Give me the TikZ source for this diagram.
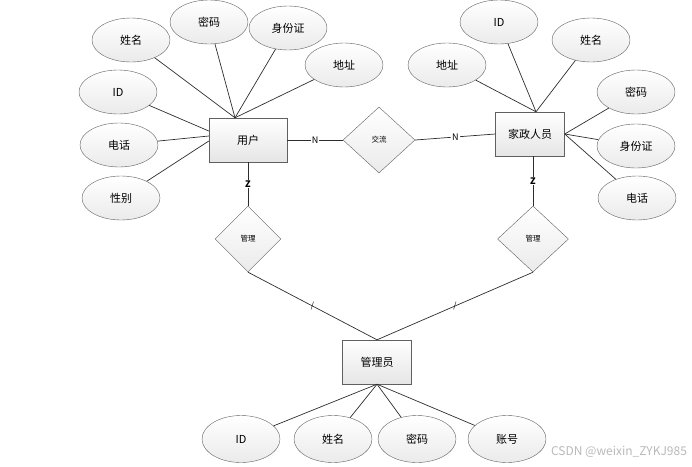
\documentclass[tikz,border=0pt]{standalone}
\usepackage{fontspec}
\setmainfont{Noto Sans CJK SC}
\usetikzlibrary{positioning,shapes.geometric}

\tikzset{
	entity/.style={draw=gray!75!black, top color=white, bottom color=gray!20, minimum width=69pt, minimum height=44pt, inner sep=0pt, font=\fontsize{11}{13}\selectfont},
	attr/.style={ellipse, draw=gray!75!black, top color=white, bottom color=gray!16, minimum width=78pt, minimum height=44pt, inner sep=0pt, font=\fontsize{11}{13}\selectfont},
	rel/.style={diamond, draw=gray!75!black, top color=white, bottom color=gray!16, minimum width=70pt, minimum height=66pt, inner sep=0pt, font=\fontsize{7.5}{9}\selectfont},
	link/.style={draw=gray!35!black, line width=0.7pt},
	card/.style={fill=white, inner sep=1pt, font=\fontsize{9}{10}\selectfont},
}

\begin{document}
\begin{tikzpicture}[x=1pt, y=-1pt]
	\useasboundingbox (0,0) rectangle (692,466);

	% entities and relations
	\node[entity, minimum width=78pt] (user) at (248,140) {用户};
	\node[entity] (staff) at (530,134) {家政人员};
	\node[entity] (admin) at (377,362) {管理员};
	\node[rel, minimum width=72pt] (talk) at (379,140) {交流};
	\node[rel, minimum width=66pt] (mngl) at (248,239) {管理};
	\node[rel, minimum width=71pt] (mngr) at (533,239) {管理};

	% attributes of user
	\node[attr] (uname) at (131,40) {姓名};
	\node[attr] (upwd) at (209,22) {密码};
	\node[attr] (ucard) at (288,28) {身份证};
	\node[attr] (uaddr) at (344,65) {地址};
	\node[attr] (uid) at (118,92) {ID};
	\node[attr] (utel) at (119,145) {电话};
	\node[attr] (usex) at (121,198) {性别};

	% attributes of staff
	\node[attr] (sid) at (499,22) {ID};
	\node[attr] (sname) at (591,40) {姓名};
	\node[attr] (saddr) at (447,65) {地址};
	\node[attr] (spwd) at (636,92) {密码};
	\node[attr] (scard) at (636,146) {身份证};
	\node[attr] (stel) at (637,198) {电话};

	% attributes of admin
	\node[attr, minimum height=47pt] (aid) at (241,439) {ID};
	\node[attr, minimum height=47pt] (aname) at (333,439) {姓名};
	\node[attr, minimum height=47pt] (apwd) at (417,439) {密码};
	\node[attr, minimum height=47pt] (aacc) at (507,439) {账号};

	\coordinate (utop) at ([xshift=-13pt]user.north);
	\coordinate (stop) at ([xshift=6pt]staff.north);

	\foreach \a in {uname,upwd,ucard,uaddr}
		\draw[link] (\a) -- (utop);
	\draw[link] (uid) -- ([yshift=9pt]user.west);
	\draw[link] (utel) -- ([yshift=4pt]user.west);
	\draw[link] (usex) -- ([yshift=-1pt]user.west);

	\foreach \a in {sid,sname,saddr}
		\draw[link] (\a) -- (stop);
	\foreach \a in {spwd,scard,stel}
		\draw[link] (\a) -- (staff.east);

	\foreach \a in {aid,aname,apwd,aacc}
		\draw[link] (\a) -- (admin.south);

	% relations
	\draw[link] (user.east) -- node[card] {N} (talk.west);
	\draw[link] (talk.east) -- node[card] {N} (staff.west);
	\draw[link] (user.south) -- node[card, font=\fontsize{9}{10}\selectfont\bfseries] {Z} (mngl.north);
	\draw[link] (staff.south -| mngr.north) -- node[card, font=\fontsize{9}{10}\selectfont\bfseries] {Z} (mngr.north);
	\draw[link] (mngl.south) -- node[inner sep=0pt, font=\fontsize{8}{9}\selectfont] {/} (admin.north);
	\draw[link] (mngr.south) -- node[inner sep=0pt, font=\fontsize{8}{9}\selectfont] {/} (admin.north);

	\node[text=gray!55, font=\fontsize{12}{14}\selectfont] (mark) at (619,452) {CSDN @weixin\_ZYKJ985};
\end{tikzpicture}
\end{document}
